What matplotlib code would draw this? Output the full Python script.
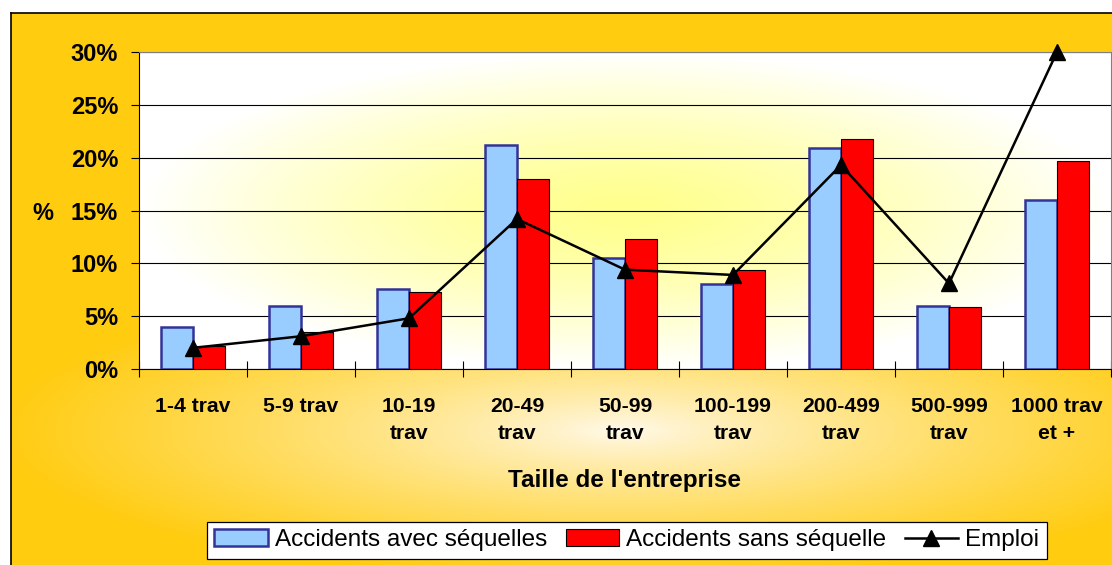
import numpy as np
import matplotlib.pyplot as plt
from matplotlib.patches import Patch
from matplotlib.lines import Line2D

plt.rcParams['font.family'] = ['Liberation Sans', 'DejaVu Sans']

# data (percent)
categories = ['1-4 trav', '5-9 trav', '10-19\ntrav', '20-49\ntrav', '50-99\ntrav',
              '100-199\ntrav', '200-499\ntrav', '500-999\ntrav', '1000 trav\net +']
avec_sequelles = [4.0, 6.0, 7.6, 21.2, 10.5, 8.0, 20.9, 6.0, 16.0]
sans_sequelle = [2.2, 3.5, 7.3, 18.0, 12.3, 9.4, 21.8, 5.9, 19.7]
emploi = [2.0, 3.1, 4.8, 14.2, 9.4, 8.9, 19.3, 8.1, 30.0]

W, H = 1112, 565
fig = plt.figure(figsize=(W / 100, H / 100), dpi=100)

# outer chart background: light centre, orange edges
yy, xx = np.mgrid[0:H, 0:W]
t = np.sqrt(((xx - 620) / 620.0) ** 2 + ((yy - 430) / 150.0) ** 2)
t = np.clip(t, 0, 1) ** 0.8
c0 = np.array([255, 250, 238]) / 255.0
c1 = np.array([255, 204, 17]) / 255.0
bg = c0 + (c1 - c0) * t[..., None]
bg[:13, :] = 1.0
bg[:, :11] = 1.0
ax_bg = fig.add_axes([0, 0, 1, 1], zorder=-10)
ax_bg.imshow(bg, extent=[0, W, H, 0], aspect='auto')
ax_bg.plot([11, 11], [13, H], color='black', lw=1.2)
ax_bg.plot([11, W], [13, 13], color='black', lw=1.2)
ax_bg.set_xlim(0, W)
ax_bg.set_ylim(H, 0)
ax_bg.axis('off')

# plot area
left, top, right, bottom = 139, 52, 1111, 369
ax = fig.add_axes([left / W, 1 - bottom / H, (right - left) / W, (bottom - top) / H])
ax.set_facecolor('none')

ph, pw = 317, 972
py, px = np.mgrid[0:ph, 0:pw]
tp = np.sqrt(((px - pw / 2) / (pw / 2)) ** 2 + ((py - ph / 2) / (ph / 2)) ** 2)
tp = np.clip(tp, 0, 1) ** 1.3
p0 = np.array([255, 255, 140]) / 255.0
p1 = np.array([255, 255, 255]) / 255.0
pimg = p0 + (p1 - p0) * tp[..., None]
n = len(categories)
ax.imshow(pimg, extent=[-0.5, n - 0.5, 0, 30], aspect='auto', zorder=-1)

x = np.arange(n)
w = 0.3
ax.bar(x - w / 2, avec_sequelles, w, color='#99CCFF', edgecolor='#333399', linewidth=1.8, zorder=3)
ax.bar(x + w / 2, sans_sequelle, w, color='#FF0000', edgecolor='black', linewidth=0.8, zorder=3)
ax.plot(x, emploi, color='black', lw=1.8, marker='^', ms=11, zorder=5, clip_on=False)

ax.set_xlim(-0.5, n - 0.5)
ax.set_ylim(0, 30)
ax.set_yticks(np.arange(0, 31, 5))
ax.set_yticklabels(['%d%%' % v for v in range(0, 31, 5)], fontsize=17, fontweight='bold')
ax.yaxis.grid(True, color='black', lw=0.8)
ax.set_axisbelow(True)
ax.tick_params(axis='y', length=6, width=0.8, pad=9)

ax.set_xticks(np.arange(-0.5, n, 1.0))
ax.set_xticklabels([])
ax.set_xticks(x, minor=True)
ax.set_xticklabels(categories, minor=True, fontsize=15.2, fontweight='bold', va='top',
                   linespacing=1.55)
ax.tick_params(axis='x', which='major', direction='inout', length=11, width=0.8)
ax.tick_params(axis='x', which='minor', length=0, pad=20)

for s in ['top', 'right']:
    ax.spines[s].set_color('#808080')
for s in ['left', 'bottom']:
    ax.spines[s].set_color('black')

fig.text(43 / W, 1 - 213 / H, '%', fontsize=17, fontweight='bold', ha='center', va='center')
fig.text((left + right) / 2 / W, 1 - 480 / H, "Taille de l'entreprise", fontsize=17.5,
         fontweight='bold', ha='center', va='center')

handles = [Patch(facecolor='#99CCFF', edgecolor='#333399', linewidth=1.8),
           Patch(facecolor='#FF0000', edgecolor='black', linewidth=0.8),
           Line2D([0], [0], color='black', lw=1.8, marker='^', ms=11)]
labels = ['Accidents avec séquelles', 'Accidents sans séquelle', 'Emploi']
leg = fig.legend(handles, labels, loc='upper left', bbox_to_anchor=(207 / W, 1 - 522 / H),
                 ncol=3, frameon=True, fancybox=False, framealpha=1, edgecolor='black',
                 fontsize=17.5, borderpad=0.3, handlelength=2.2, handletextpad=0.3,
                 columnspacing=0.75, borderaxespad=0)
leg.get_frame().set_linewidth(0.9)

plt.savefig('out.png', dpi=100)
